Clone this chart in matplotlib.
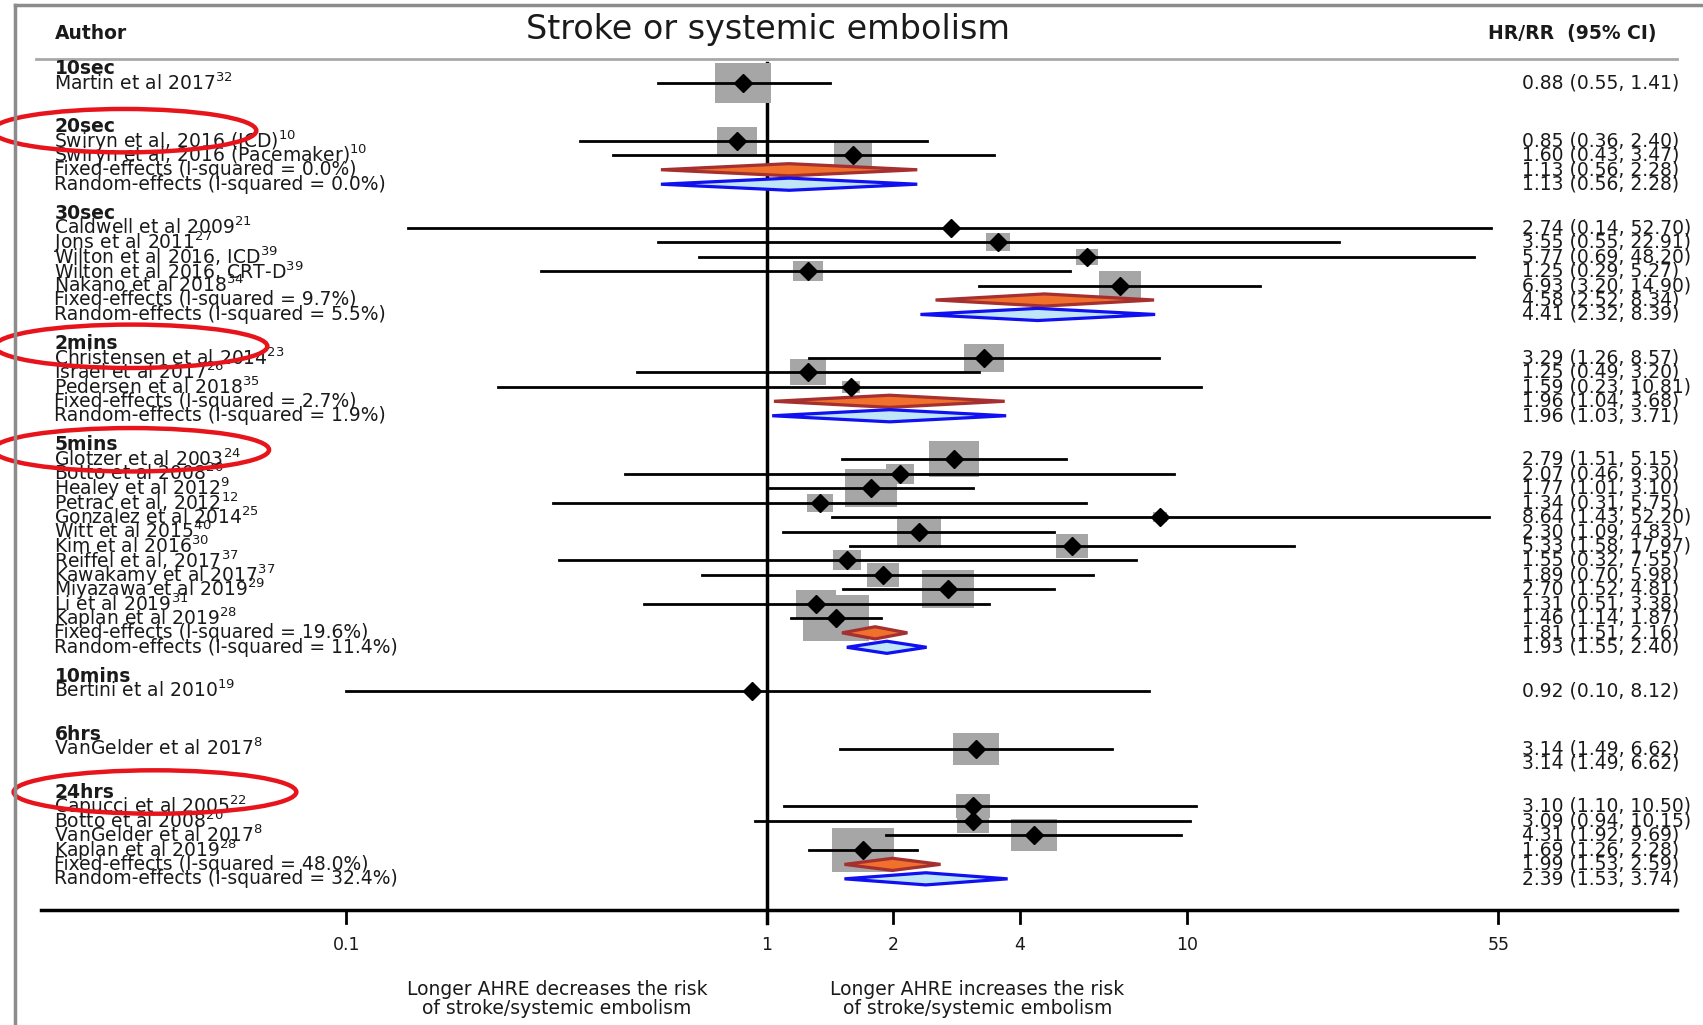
import numpy as np
import matplotlib.pyplot as plt
from matplotlib.patches import Ellipse, Polygon
from matplotlib.path import Path
from matplotlib.lines import Line2D
from matplotlib.transforms import blended_transform_factory

plt.rcParams['font.family'] = 'DejaVu Sans'
plt.rcParams['mathtext.fontset'] = 'dejavusans'
plt.rcParams['mathtext.default'] = 'regular'

# --- data ---
groups = ['10sec', '20sec', '30sec', '2mins', '5mins', '10mins', '6hrs', '24hrs']

names = [
    ['Martin et al 2017'],
    ['Swiryn et al, 2016 (ICD)', 'Swiryn et al, 2016 (Pacemaker)'],
    ['Caldwell et al 2009', 'Jons et al 2011', 'Wilton et al 2016, ICD',
     'Wilton et al 2016, CRT-D', 'Nakano et al 2018'],
    ['Christensen et al 2014', 'Israel et al 2017', 'Pedersen et al 2018'],
    ['Glotzer et al 2003', 'Botto et al 2008', 'Healey et al 2012', 'Petrac et al, 2012',
     'Gonzalez et al 2014', 'Witt et al 2015', 'Kim et al 2016', 'Reiffel et al, 2017',
     'Kawakamy et al 2017', 'Miyazawa et al 2019', 'Li et al 2019', 'Kaplan et al 2019'],
    ['Bertini et al 2010'],
    ['VanGelder et al 2017'],
    ['Capucci et al 2005', 'Botto et al 2008', 'VanGelder et al 2017', 'Kaplan et al 2019'],
]
refs = [
    ['32'], ['10', '10'], ['21', '27', '39', '39', '34'], ['23', '26', '35'],
    ['24', '20', '9', '12', '25', '40', '30', '37', '37', '29', '31', '28'],
    ['19'], ['8'], ['22', '20', '8', '28'],
]
hr = [
    [0.88], [0.85, 1.60], [2.74, 3.55, 5.77, 1.25, 6.93], [3.29, 1.25, 1.59],
    [2.79, 2.07, 1.77, 1.34, 8.64, 2.30, 5.33, 1.55, 1.89, 2.70, 1.31, 1.46],
    [0.92], [3.14], [3.10, 3.09, 4.31, 1.69],
]
lo = [
    [0.55], [0.36, 0.43], [0.14, 0.55, 0.69, 0.29, 3.20], [1.26, 0.49, 0.23],
    [1.51, 0.46, 1.01, 0.31, 1.43, 1.09, 1.58, 0.32, 0.70, 1.52, 0.51, 1.14],
    [0.10], [1.49], [1.10, 0.94, 1.92, 1.26],
]
hi = [
    [1.41], [2.40, 3.47], [52.70, 22.91, 48.20, 5.27, 14.90], [8.57, 3.20, 10.81],
    [5.15, 9.30, 3.10, 5.75, 52.20, 4.83, 17.97, 7.55, 5.98, 4.81, 3.38, 1.87],
    [8.12], [6.62], [10.50, 10.15, 9.69, 2.28],
]
# relative study weight (grey box width)
box = [
    [52], [37, 35], [10, 22, 20, 27, 38], [36, 34, 16],
    [46, 26, 48, 24, 12, 40, 30, 26, 30, 48, 36, 60],
    [10], [42], [32, 30, 42, 58],
]
fixed_i2 = [None, 0.0, 9.7, 2.7, 19.6, None, None, 48.0]
fixed_est = [None, (1.13, 0.56, 2.28), (4.58, 2.52, 8.34), (1.96, 1.04, 3.68),
             (1.81, 1.51, 2.16), None, None, (1.99, 1.53, 2.59)]
random_i2 = [None, 0.0, 5.5, 1.9, 11.4, None, None, 32.4]
random_est = [None, (1.13, 0.56, 2.28), (4.41, 2.32, 8.39), (1.96, 1.03, 3.71),
              (1.93, 1.55, 2.40), None, None, (2.39, 1.53, 3.74)]
single_pooled = [None, None, None, None, None, None, (3.14, 1.49, 6.62), None]

highlighted = ['20sec', '2mins', '5mins', '24hrs']

tick_vals = [0.1, 1, 2, 4, 10, 55]
tick_labels = ['0.1', '1', '2', '4', '10', '55']

# --- figure ---
fig = plt.figure(figsize=(17.03, 10.25), dpi=100)
ax = fig.add_axes([0, 0, 1, 1])
ax.set_xscale('log')
ax.set_xlim(10 ** -1.824, 10 ** 2.227)
ax.set_ylim(66.1, -4.73)
ax.axis('off')
blend = blended_transform_factory(ax.transAxes, ax.transData)

txt = '#1a1a1a'
fs = 13.5
xl = 0.032   # left text column
xr = 0.894   # right text column

def fmt(e):
    return f'{e[0]:.2f} ({e[1]:.2f}, {e[2]:.2f})'

def pooled_diamond(e, y, face, edge):
    h = 0.42
    pts = [(e[1], y), (e[0], y - h), (e[2], y), (e[0], y + h)]
    ax.add_patch(Polygon(pts, closed=True, facecolor=face, edgecolor=edge, lw=2.3, zorder=4))

rect = Path([(-1.4, -1), (1.4, -1), (1.4, 1), (-1.4, 1), (-1.4, -1)])
px2pt = 1.086 * 72 / 100

row = 0
header_rows = {}
for g in range(len(groups)):
    header_rows[groups[g]] = row
    ax.text(xl, row, groups[g], transform=blend, ha='left', va='center',
            fontsize=fs, fontweight='bold', color=txt)
    row += 1
    for k in range(len(names[g])):
        ax.text(xl, row, names[g][k] + '$^{' + refs[g][k] + '}$', transform=blend,
                ha='left', va='center', fontsize=fs, color=txt)
        ax.text(xr, row, fmt((hr[g][k], lo[g][k], hi[g][k])), transform=blend,
                ha='left', va='center', fontsize=fs, color=txt)
        ax.scatter([hr[g][k]], [row], marker=rect, s=(box[g][k] * px2pt) ** 2,
                   color='#a6a6a6', zorder=2, linewidths=0)
        ax.plot([lo[g][k], hi[g][k]], [row, row], color='black', lw=2, zorder=3)
        ax.plot([hr[g][k]], [row], marker='D', markersize=9, color='black', zorder=5)
        row += 1
    if fixed_est[g] is not None:
        ax.text(xl, row, f'Fixed-effects (I-squared = {fixed_i2[g]:.1f}%)', transform=blend,
                ha='left', va='center', fontsize=fs, color=txt)
        ax.text(xr, row, fmt(fixed_est[g]), transform=blend, ha='left', va='center',
                fontsize=fs, color=txt)
        pooled_diamond(fixed_est[g], row, '#f0702c', '#a5302f')
        row += 1
        ax.text(xl, row, f'Random-effects (I-squared = {random_i2[g]:.1f}%)', transform=blend,
                ha='left', va='center', fontsize=fs, color=txt)
        ax.text(xr, row, fmt(random_est[g]), transform=blend, ha='left', va='center',
                fontsize=fs, color=txt)
        pooled_diamond(random_est[g], row, '#bfe6f7', '#1010f0')
        row += 1
    else:
        if single_pooled[g] is not None:
            ax.text(xr, row, fmt(single_pooled[g]), transform=blend, ha='left',
                    va='center', fontsize=fs, color=txt)
        row += 1
    row += 1

# axis, null line and header
y_axis = 58.14
ax.plot([0.0242, 0.985], [y_axis, y_axis], transform=blend, color='black', lw=2.5)
ax.plot([1, 1], [-0.4, y_axis + 0.9], color='black', lw=2.5, zorder=1)
for v, lab in zip(tick_vals, tick_labels):
    ax.plot([v, v], [y_axis, y_axis + 0.9], color='black', lw=2)
    ax.text(v, 60.6, lab, ha='center', va='center', fontsize=12.5, color=txt)
ax.plot([0.021, 0.985], [-0.67, -0.67], transform=blend, color='#a8a8a8', lw=2)

ax.text(xl, -2.4, 'Author', transform=blend, ha='left', va='center',
        fontsize=fs, fontweight='bold', color=txt)
ax.text(0.874, -2.4, 'HR/RR  (95% CI)', transform=blend, ha='left', va='center',
        fontsize=fs, fontweight='bold', color=txt)
ax.text(0.451, -2.7, 'Stroke or systemic embolism', transform=blend, ha='center',
        va='center', fontsize=24, color=txt)

ax.text(0.327, 64.3, 'Longer AHRE decreases the risk\nof stroke/systemic embolism',
        transform=blend, ha='center', va='center', fontsize=13.5, color=txt, linespacing=0.95)
ax.text(0.574, 64.3, 'Longer AHRE increases the risk\nof stroke/systemic embolism',
        transform=blend, ha='center', va='center', fontsize=13.5, color=txt, linespacing=0.95)

# red highlight ellipses
ell_x = {'20sec': 0.073, '2mins': 0.077, '5mins': 0.077, '24hrs': 0.091}
ell_w = {'20sec': 0.155, '2mins': 0.160, '5mins': 0.162, '24hrs': 0.166}
ell_dy = {'20sec': 0.3, '2mins': 0.2, '5mins': 0.35, '24hrs': 0.0}
for g in highlighted:
    ax.add_patch(Ellipse((ell_x[g], header_rows[g] + ell_dy[g]), ell_w[g], 3.0,
                         transform=blend, fill=False, edgecolor='#e8141c', lw=3.2, zorder=6))

# figure frame
fig.add_artist(Line2D([0.0089, 0.0089], [0, 0.9947], transform=fig.transFigure,
                      color='#8c8c8c', lw=2.5))
fig.add_artist(Line2D([0.0089, 1], [0.9947, 0.9947], transform=fig.transFigure,
                      color='#8c8c8c', lw=2.5))

fig.savefig('out.png', dpi=100)
